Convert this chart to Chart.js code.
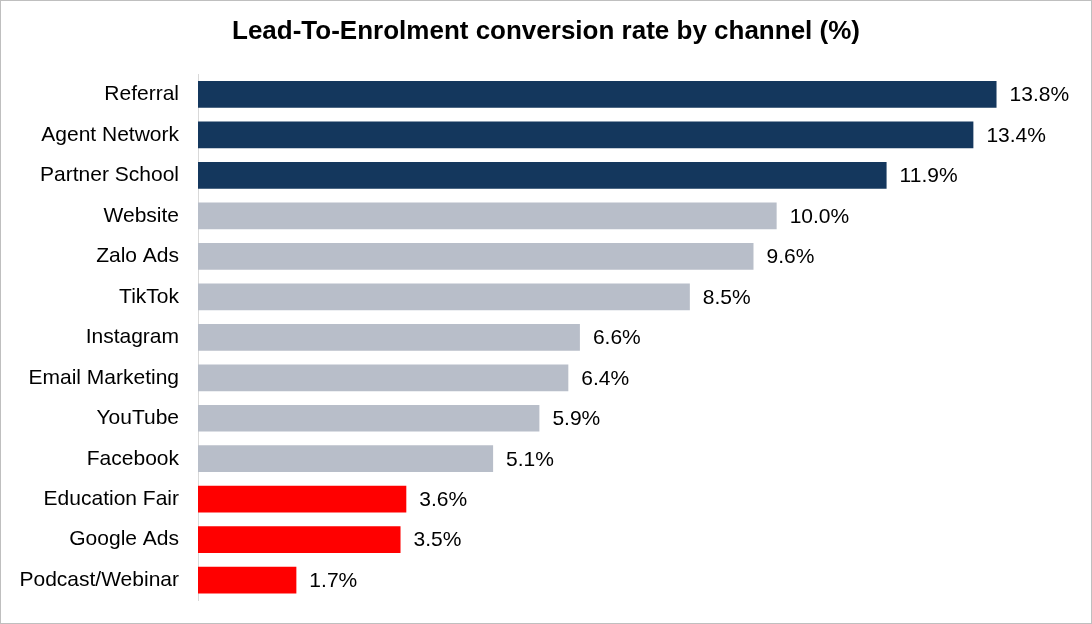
<!DOCTYPE html>
<html>
<head>
<meta charset="utf-8">
<script src="https://cdn.jsdelivr.net/npm/chart.js@4"></script>
<style>
  html, body { margin: 0; padding: 0; background: #fff; }
  #wrap { width: 1092px; height: 624px; position: relative; }
</style>
</head>
<body>
<div id="wrap"><canvas id="chart"></canvas></div>
<script>
// data
const channels = ["Referral", "Agent Network", "Partner School", "Website", "Zalo Ads", "TikTok",
    "Instagram", "Email Marketing", "YouTube", "Facebook", "Education Fair", "Google Ads", "Podcast/Webinar"];
const conversionRates = [13.8, 13.4, 11.9, 10.0, 9.6, 8.5, 6.6, 6.4, 5.9, 5.1, 3.6, 3.5, 1.7];
const tiers = ["top", "top", "top", "mid", "mid", "mid", "mid", "mid", "mid", "mid", "low", "low", "low"];

const tierColors = { top: "#14375D", mid: "#B8BEC9", low: "#FF0000" };
const FONT = "'Liberation Sans', Arial, sans-serif";

// valeurs à droite des barres + cadre
const valueLabels = {
    id: "valueLabels",
    afterDatasetsDraw(chart) {
        const ctx = chart.ctx;
        const meta = chart.getDatasetMeta(0);
        ctx.save();
        ctx.font = `21px ${FONT}`;
        ctx.fillStyle = "#000";
        ctx.textBaseline = "middle";
        ctx.textAlign = "left";
        meta.data.forEach((bar, i) => {
            ctx.fillText(conversionRates[i].toFixed(1) + "%", bar.x + 13, bar.y + 1);
        });
        ctx.restore();
    },
    afterDraw(chart) {
        const ctx = chart.ctx;
        ctx.save();
        ctx.strokeStyle = "#BFBFBF";
        ctx.lineWidth = 1;
        ctx.strokeRect(0.5, 0.5, chart.width - 1, chart.height - 1);
        ctx.restore();
    }
};

new Chart(document.getElementById("chart"), {
    type: "bar",
    data: {
        labels: channels,
        datasets: [{
            data: conversionRates,
            backgroundColor: tiers.map(t => tierColors[t]),
            categoryPercentage: 0.66,
            barPercentage: 1
        }]
    },
    options: {
        indexAxis: "y",
        responsive: true,
        maintainAspectRatio: false,
        animation: false,
        layout: { padding: { top: 0, right: 0, bottom: 17, left: 0 } },
        plugins: {
            legend: { display: false },
            tooltip: { enabled: false },
            title: {
                display: true,
                text: "Lead-To-Enrolment conversion rate by channel (%)",
                color: "#000",
                font: { family: FONT, size: 26, weight: "bold" },
                padding: { top: 16, bottom: 27 }
            }
        },
        scales: {
            x: { display: false, min: 0, max: 15.45 },
            y: {
                grid: { display: false },
                border: { display: true, color: "#D9D9D9", width: 1 },
                ticks: {
                    color: "#000",
                    padding: 11,
                    font: { family: FONT, size: 21 }
                },
                afterFit(scale) { scale.width = 198; }
            }
        }
    },
    plugins: [valueLabels]
});
</script>
</body>
</html>
